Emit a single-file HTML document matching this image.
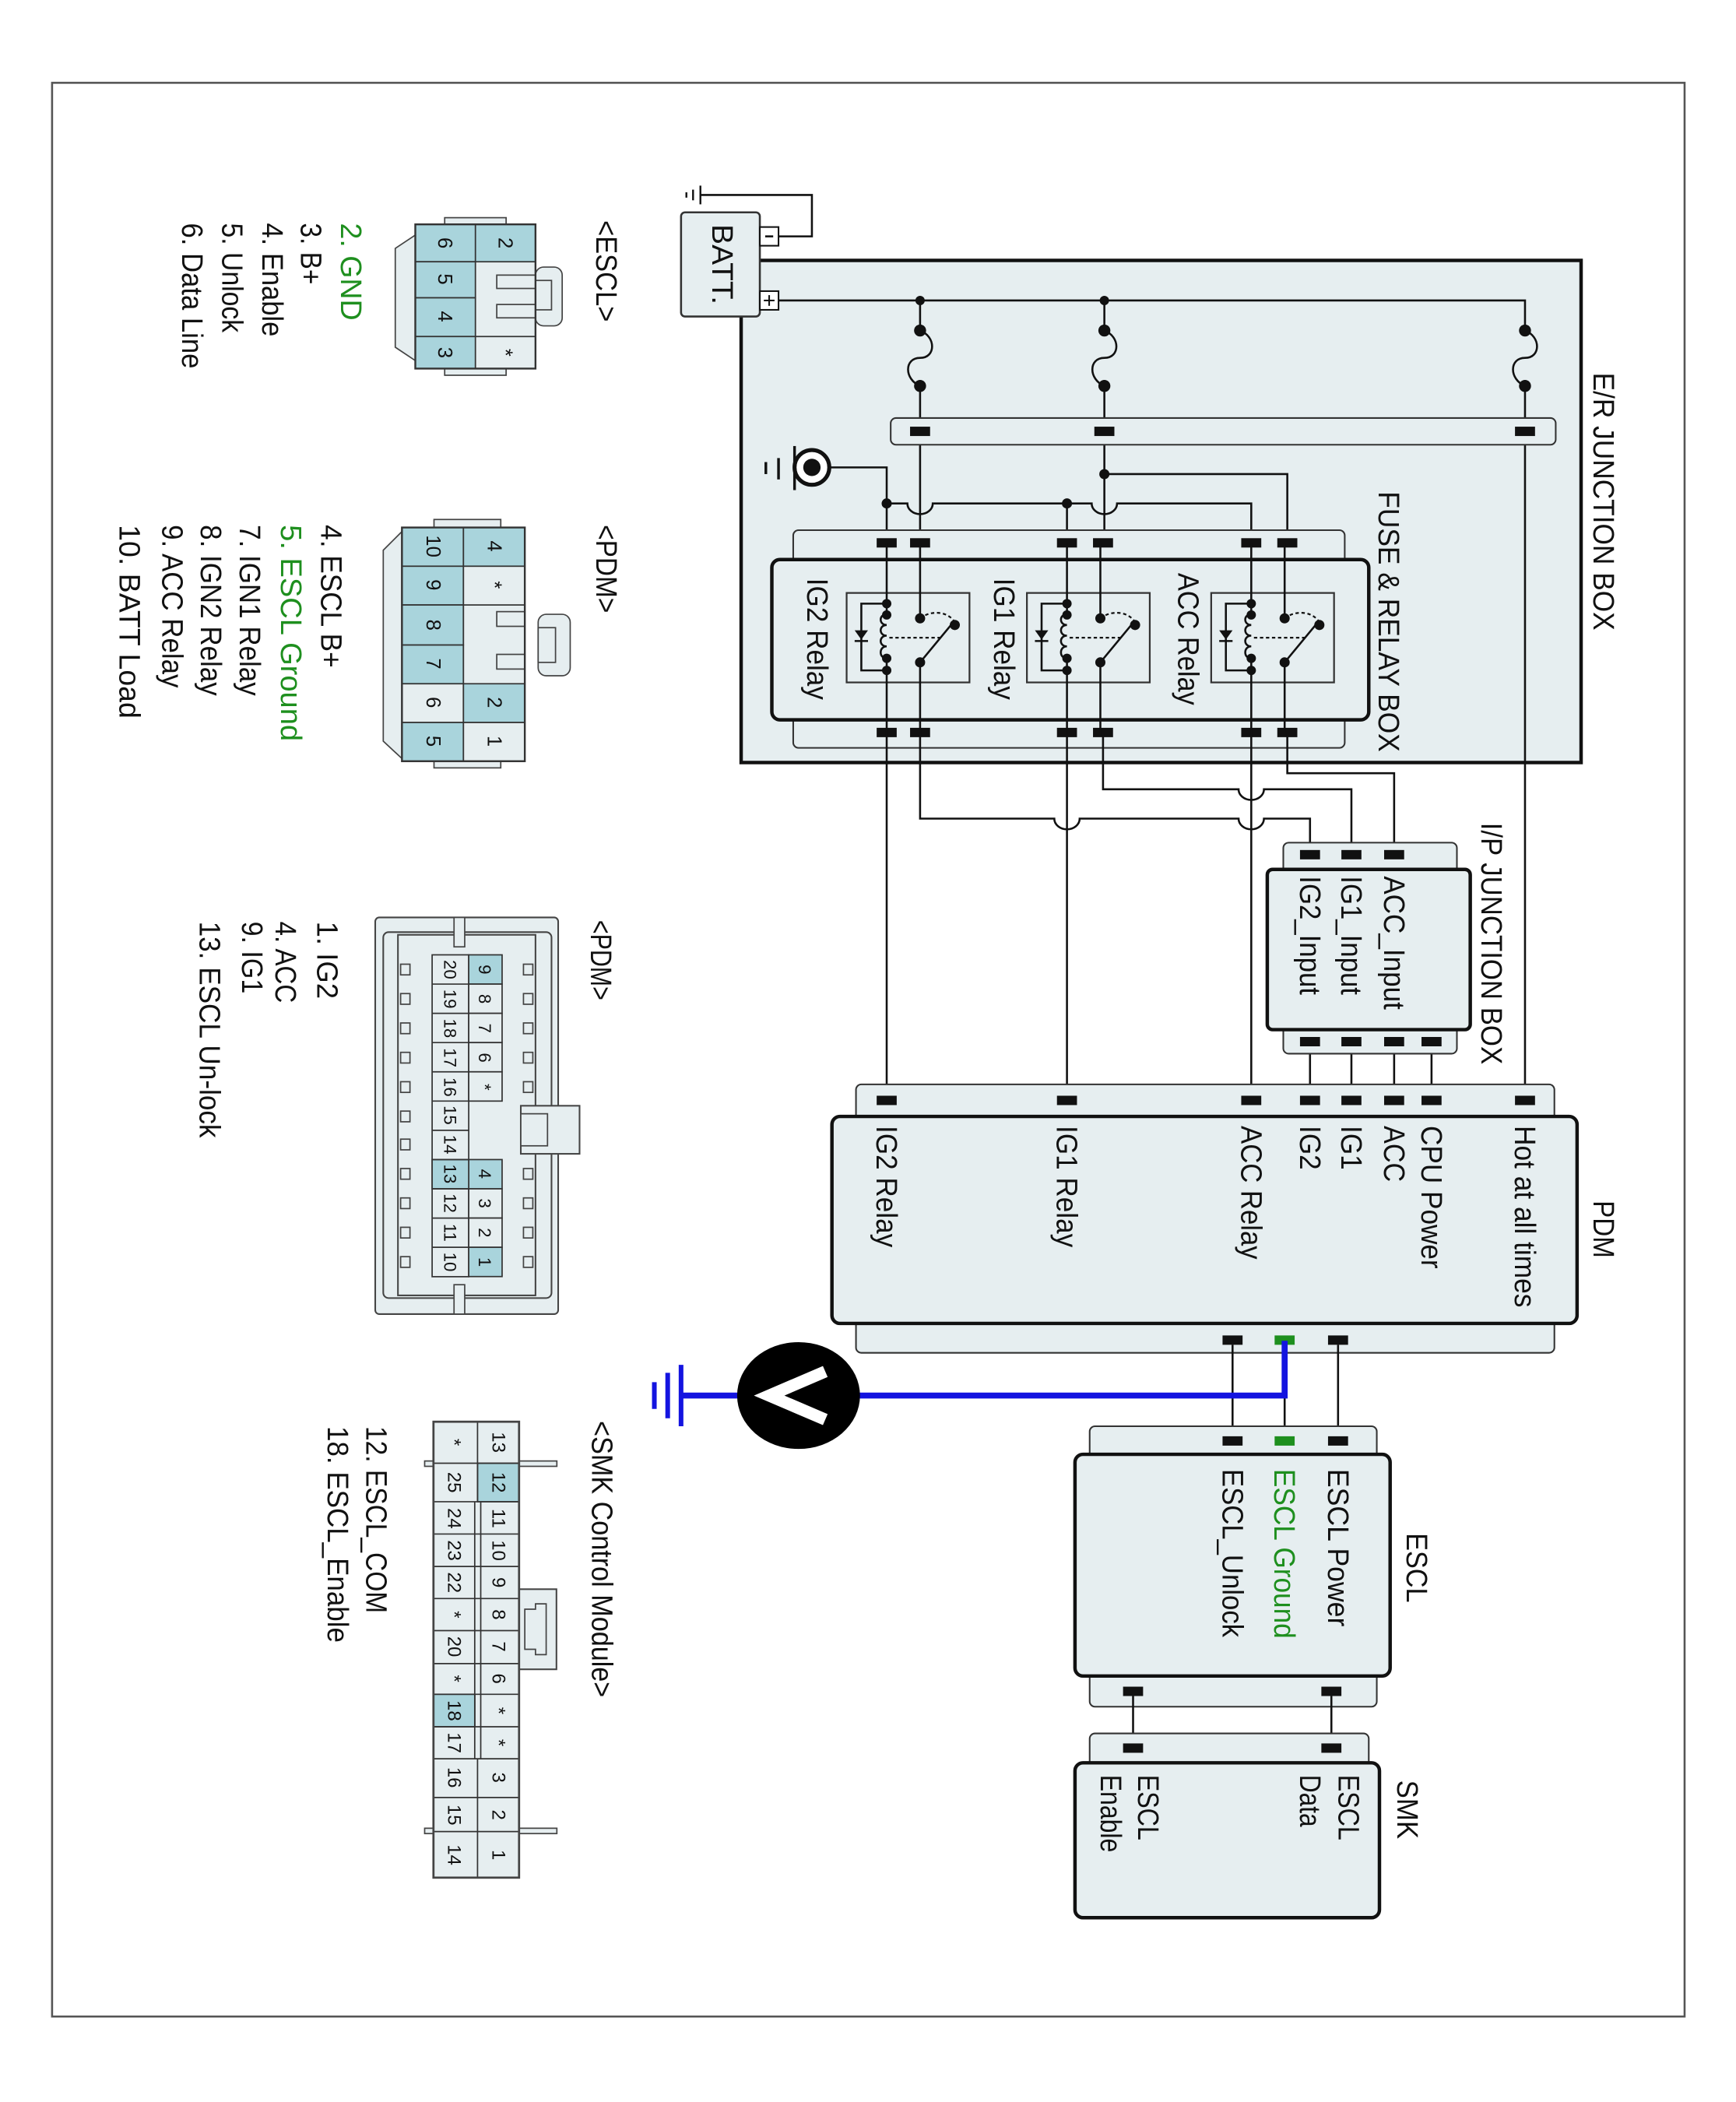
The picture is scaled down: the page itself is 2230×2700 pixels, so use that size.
<!DOCTYPE html>
<html><head><meta charset="utf-8"><style>
html,body{margin:0;padding:0;background:#fff;}
svg{display:block;}
text{font-family:"Liberation Sans",Arial,sans-serif;fill:#111;}
</style></head><body>
<svg xmlns="http://www.w3.org/2000/svg" width="2230" height="2700" viewBox="0 0 1300 1574" preserveAspectRatio="none">
<defs>
<style>
.w{stroke:#111;stroke-width:1.5;fill:none;}
.box{fill:#e6eef0;stroke:#111;stroke-width:2.6;}
.strip{fill:#e6eef0;stroke:#333;stroke-width:1.2;}
.c{fill:#111;}
.t{font-size:22px;dominant-baseline:central;}
.teal{fill:#a9d4dc;stroke:#333;stroke-width:1;}
.lt{fill:#e6eef0;stroke:#333;stroke-width:1;}
.n{font-size:15px;dominant-baseline:central;text-anchor:middle;}
</style>
</defs>
<rect x="0" y="0" width="1300" height="1574" fill="#fff"/>
<rect x="39" y="62" width="1222.5" height="1448" fill="none" stroke="#555" stroke-width="1.5"/>

<!-- E/R junction box -->
<rect x="555" y="195" width="629" height="376" fill="#e6eef0" stroke="#111" stroke-width="2.6"/>
<text class="t" transform="translate(1201,279) rotate(90)" textLength="193" lengthAdjust="spacingAndGlyphs">E/R JUNCTION BOX</text>
<text class="t" transform="translate(1040,368) rotate(90)" textLength="195" lengthAdjust="spacingAndGlyphs">FUSE &amp; RELAY BOX</text>

<!-- Battery -->
<rect x="510" y="159" width="59" height="78" rx="3" fill="#e6eef0" stroke="#333" stroke-width="1.5"/>
<text class="t" transform="translate(541,168) rotate(90)" textLength="60" lengthAdjust="spacingAndGlyphs">BATT.</text>
<rect x="569" y="170" width="14" height="14" fill="#fff" stroke="#111" stroke-width="1.2"/>
<line x1="573" y1="177" x2="579" y2="177" stroke="#111" stroke-width="1.5"/>
<rect x="569" y="218" width="14" height="14" fill="#fff" stroke="#111" stroke-width="1.2"/>
<line x1="572" y1="225" x2="580" y2="225" stroke="#111" stroke-width="1.2"/><line x1="576" y1="221" x2="576" y2="229" stroke="#111" stroke-width="1.2"/>
<polyline class="w" points="583,177 608,177 608,146 524,146"/>
<line x1="524.5" y1="139" x2="524.5" y2="153" stroke="#111" stroke-width="1.4"/>
<line x1="519" y1="142" x2="519" y2="150" stroke="#111" stroke-width="1.4"/>
<line x1="514" y1="144" x2="514" y2="148" stroke="#111" stroke-width="1.4"/>

<!-- + bus -->
<polyline class="w" points="583,225 1142,225 1142,247"/>
<circle class="c" cx="689" cy="225" r="3.5"/><circle class="c" cx="827" cy="225" r="3.5"/>
<g class="w">
<path d="M689,225 V247.5 C701,252 701,268 689,268 C677,268 677,284 689,289 V406"/>
<path d="M827,225 V247.5 C839,252 839,268 827,268 C815,268 815,284 827,289 V406"/>
<path d="M1142,247.5 C1154,252 1154,268 1142,268 C1130,268 1130,284 1142,289 V824"/>
</g>
<g class="c">
<circle cx="689" cy="247.5" r="4.5"/><circle cx="689" cy="289" r="4.5"/>
<circle cx="827" cy="247.5" r="4.5"/><circle cx="827" cy="289" r="4.5"/>
<circle cx="1142" cy="247.5" r="4.5"/><circle cx="1142" cy="289" r="4.5"/>
</g>
<rect class="strip" x="667" y="313" width="498" height="20" rx="4"/>
<rect class="c" x="681.5" y="319.5" width="15" height="7"/>
<rect class="c" x="819.5" y="319.5" width="15" height="7"/>
<rect class="c" x="1134.5" y="319.5" width="15" height="7"/>

<!-- ground circle -->
<circle cx="608" cy="350" r="13" fill="#fff" stroke="#111" stroke-width="3"/>
<circle cx="608" cy="350" r="6.5" fill="#111"/>
<line x1="595" y1="334" x2="595" y2="367" stroke="#111" stroke-width="2"/>
<line x1="583" y1="343" x2="583" y2="359" stroke="#111" stroke-width="2"/>
<line x1="573.5" y1="346" x2="573.5" y2="355" stroke="#111" stroke-width="2"/>
<path class="w" d="M621,350 H664 V406"/>
<path class="w" d="M664,377 H679.5 A9.5,8 0 0 0 698.5,377 H817.5 A9.5,8 0 0 0 836.5,377 H937 V406"/>
<line class="w" x1="799" y1="377" x2="799" y2="406"/>
<path class="w" d="M827,355 H964 V406"/>
<circle class="c" cx="664" cy="377" r="3.8"/><circle class="c" cx="799" cy="377" r="3.8"/><circle class="c" cx="827" cy="355" r="3.8"/>

<!-- Fuse & relay box -->
<rect class="strip" x="594" y="397" width="413" height="26" rx="4"/>
<rect class="strip" x="594" y="535" width="413" height="25" rx="4"/>
<rect class="box" x="578" y="419" width="447" height="120" rx="6"/>
<g class="c">
<rect x="656.5" y="403" width="15" height="7"/><rect x="681.5" y="403" width="15" height="7"/>
<rect x="791.5" y="403" width="15" height="7"/><rect x="818.5" y="403" width="15" height="7"/>
<rect x="929.5" y="403" width="15" height="7"/><rect x="956.5" y="403" width="15" height="7"/>
<rect x="656.5" y="545" width="15" height="7"/><rect x="681.5" y="545" width="15" height="7"/>
<rect x="791.5" y="545" width="15" height="7"/><rect x="818.5" y="545" width="15" height="7"/>
<rect x="929.5" y="545" width="15" height="7"/><rect x="956.5" y="545" width="15" height="7"/>
</g>
<g id="relay">
<rect x="634" y="444" width="92" height="67" fill="#e6eef0" stroke="#333" stroke-width="1.3"/>
<line class="w" x1="664" y1="406" x2="664" y2="460"/>
<line class="w" x1="664" y1="493" x2="664" y2="549"/>
<path class="w" d="M664,460 c-6,0 -6,8 0,8 c-6,0 -6,8 0,8 c-6,0 -6,8 0,8 c-6,0 -6,9 0,9"/>
<polyline class="w" points="664,452 645,452 645,502 664,502"/>
<polygon points="640,472 650,472 645,479" fill="#111"/>
<line x1="640" y1="480" x2="650" y2="480" stroke="#111" stroke-width="1.5"/>
<line class="w" x1="689" y1="406" x2="689" y2="463"/>
<line class="w" x1="689" y1="496" x2="689" y2="549"/>
<line class="w" x1="689" y1="496" x2="713" y2="467"/>
<path d="M689,463 C698,456 712,458 716,468" fill="none" stroke="#111" stroke-width="1.3" stroke-dasharray="2.5,2"/>
<line x1="666" y1="477.5" x2="706" y2="477.5" stroke="#111" stroke-width="1.3" stroke-dasharray="2.5,2"/>
<g class="c">
<circle cx="664" cy="452" r="3.5"/><circle cx="664" cy="460.5" r="3.5"/><circle cx="664" cy="493" r="3.5"/><circle cx="664" cy="502" r="3.5"/>
<circle cx="689" cy="463" r="3.8"/><circle cx="689" cy="496" r="3.8"/><circle cx="715" cy="468" r="3.8"/>
</g>
</g>
<use href="#relay" transform="translate(135,0)"/>
<use href="#relay" transform="translate(273,0)"/>
<text class="t" transform="translate(612,433) rotate(90)" textLength="91" lengthAdjust="spacingAndGlyphs">IG2 Relay</text>
<text class="t" transform="translate(752,433) rotate(90)" textLength="91" lengthAdjust="spacingAndGlyphs">IG1 Relay</text>
<text class="t" transform="translate(890,429) rotate(90)" textLength="99" lengthAdjust="spacingAndGlyphs">ACC Relay</text>

<g class="w">
<line x1="664" y1="549" x2="664" y2="824"/>
<line x1="799" y1="549" x2="799" y2="824"/>
<line x1="937" y1="549" x2="937" y2="824"/>
<path d="M689,549 V613 H789.5 A9.5,8 0 0 0 808.5,613 H927.5 A9.5,8 0 0 0 946.5,613 H981 V640"/>
<path d="M826,549 V591 H927.5 A9.5,8 0 0 0 946.5,591 H1012 V640"/>
<path d="M964,549 V579 H1044 V640"/>
<line x1="981" y1="780" x2="981" y2="824"/>
<line x1="1012" y1="780" x2="1012" y2="824"/>
<line x1="1044" y1="780" x2="1044" y2="824"/>
<line x1="1072" y1="780" x2="1072" y2="824"/>
</g>

<!-- I/P junction box -->
<rect class="strip" x="961" y="631" width="130" height="24" rx="4"/>
<rect class="strip" x="961" y="766" width="130" height="23" rx="4"/>
<rect class="box" x="949" y="651" width="152" height="120" rx="4"/>
<g class="c">
<rect x="973.5" y="636.5" width="15" height="7"/><rect x="1004.5" y="636.5" width="15" height="7"/><rect x="1036.5" y="636.5" width="15" height="7"/>
<rect x="973.5" y="776.5" width="15" height="7"/><rect x="1004.5" y="776.5" width="15" height="7"/><rect x="1036.5" y="776.5" width="15" height="7"/><rect x="1064.5" y="776.5" width="15" height="7"/>
</g>
<text class="t" transform="translate(1044,656) rotate(90)" textLength="100" lengthAdjust="spacingAndGlyphs">ACC_Input</text>
<text class="t" transform="translate(1012,656) rotate(90)" textLength="89" lengthAdjust="spacingAndGlyphs">IG1_Input</text>
<text class="t" transform="translate(981,656) rotate(90)" textLength="89" lengthAdjust="spacingAndGlyphs">IG2_Input</text>
<text class="t" transform="translate(1117,616) rotate(90)" textLength="181" lengthAdjust="spacingAndGlyphs">I/P JUNCTION BOX</text>

<!-- PDM -->
<rect class="strip" x="641" y="812" width="523" height="30" rx="4"/>
<rect class="strip" x="641" y="985" width="523" height="28" rx="4"/>
<rect class="box" x="623" y="836" width="558" height="155" rx="6"/>
<g class="c">
<rect x="656.5" y="820.5" width="15" height="7"/><rect x="791.5" y="820.5" width="15" height="7"/><rect x="929.5" y="820.5" width="15" height="7"/>
<rect x="973.5" y="820.5" width="15" height="7"/><rect x="1004.5" y="820.5" width="15" height="7"/><rect x="1036.5" y="820.5" width="15" height="7"/><rect x="1064.5" y="820.5" width="15" height="7"/><rect x="1134.5" y="820.5" width="15" height="7"/>
<rect x="915.5" y="1000" width="15" height="7"/><rect x="994.5" y="1000" width="15" height="7"/>
</g>
<rect x="954.5" y="1000" width="15" height="7" fill="#1e8f1e"/>
<text class="t" transform="translate(664,843) rotate(90)" textLength="91" lengthAdjust="spacingAndGlyphs">IG2 Relay</text>
<text class="t" transform="translate(799,843) rotate(90)" textLength="91" lengthAdjust="spacingAndGlyphs">IG1 Relay</text>
<text class="t" transform="translate(937,843) rotate(90)" textLength="100" lengthAdjust="spacingAndGlyphs">ACC Relay</text>
<text class="t" transform="translate(981,843) rotate(90)" textLength="33" lengthAdjust="spacingAndGlyphs">IG2</text>
<text class="t" transform="translate(1012,843) rotate(90)" textLength="33" lengthAdjust="spacingAndGlyphs">IG1</text>
<text class="t" transform="translate(1044,843) rotate(90)" textLength="42" lengthAdjust="spacingAndGlyphs">ACC</text>
<text class="t" transform="translate(1072,843) rotate(90)" textLength="107" lengthAdjust="spacingAndGlyphs">CPU Power</text>
<text class="t" transform="translate(1142,843) rotate(90)" textLength="136" lengthAdjust="spacingAndGlyphs">Hot at all times</text>
<text class="t" transform="translate(1201,899) rotate(90)" textLength="43" lengthAdjust="spacingAndGlyphs">PDM</text>

<line class="w" x1="923" y1="1007" x2="923" y2="1079"/>
<line class="w" x1="1002" y1="1007" x2="1002" y2="1079"/>
<line class="w" x1="962" y1="1045" x2="962" y2="1079"/>
<polyline points="962,1004 962,1045 510,1045" fill="none" stroke="#1414e0" stroke-width="4.5"/>
<line x1="510" y1="1022" x2="510" y2="1068" stroke="#1414e0" stroke-width="3.5"/>
<line x1="500" y1="1028" x2="500" y2="1062" stroke="#1414e0" stroke-width="3.5"/>
<line x1="490" y1="1035" x2="490" y2="1055" stroke="#1414e0" stroke-width="3.5"/>
<ellipse cx="598" cy="1045" rx="46" ry="40" fill="#000"/>
<polyline points="618,1027 576,1045 618,1063" fill="none" stroke="#fff" stroke-width="9" stroke-linejoin="miter"/>

<!-- ESCL -->
<rect class="strip" x="816" y="1068" width="215" height="26" rx="4"/>
<rect class="strip" x="816" y="1250" width="215" height="28" rx="4"/>
<rect class="box" x="805" y="1089" width="236" height="166" rx="6"/>
<g class="c">
<rect x="915.5" y="1075.5" width="15" height="7"/><rect x="994.5" y="1075.5" width="15" height="7"/>
<rect x="841" y="1263" width="15" height="7"/><rect x="989.5" y="1263" width="15" height="7"/>
<rect x="841" y="1305.5" width="15" height="7"/><rect x="989.5" y="1305.5" width="15" height="7"/>
</g>
<rect x="954.5" y="1075.5" width="15" height="7" fill="#1e8f1e"/>
<text class="t" transform="translate(1002,1100) rotate(90)" textLength="118" lengthAdjust="spacingAndGlyphs">ESCL Power</text>
<text class="t" transform="translate(962,1100) rotate(90)" textLength="127" lengthAdjust="spacingAndGlyphs" style="fill:#1e8f1e">ESCL Ground</text>
<text class="t" transform="translate(923,1100) rotate(90)" textLength="126" lengthAdjust="spacingAndGlyphs">ESCL_Unlock</text>
<text class="t" transform="translate(1061,1148) rotate(90)" textLength="52" lengthAdjust="spacingAndGlyphs">ESCL</text>
<line class="w" x1="848.5" y1="1270" x2="848.5" y2="1306"/>
<line class="w" x1="997" y1="1270" x2="997" y2="1306"/>

<!-- SMK -->
<rect class="strip" x="816" y="1298" width="209" height="26" rx="4"/>
<rect class="box" x="805" y="1320" width="228" height="116" rx="6"/>
<rect class="c" x="841" y="1305.5" width="15" height="7"/><rect class="c" x="989.5" y="1305.5" width="15" height="7"/>
<text class="t" transform="translate(1010,1329) rotate(90)" textLength="49" lengthAdjust="spacingAndGlyphs">ESCL</text>
<text class="t" transform="translate(981,1329) rotate(90)" textLength="39" lengthAdjust="spacingAndGlyphs">Data</text>
<text class="t" transform="translate(860,1329) rotate(90)" textLength="49" lengthAdjust="spacingAndGlyphs">ESCL</text>
<text class="t" transform="translate(832,1329) rotate(90)" textLength="58" lengthAdjust="spacingAndGlyphs">Enable</text>
<text class="t" transform="translate(1054,1333) rotate(90)" textLength="44" lengthAdjust="spacingAndGlyphs">SMK</text>

<!-- ESCL connector -->
<text class="t" transform="translate(454,165) rotate(90)" textLength="76" lengthAdjust="spacingAndGlyphs">&lt;ESCL&gt;</text>
<rect x="333" y="163" width="46" height="118" fill="#e6eef0" stroke="#444" stroke-width="1"/>
<path d="M311,176 L296,186 L296,260 L311,270 Z" fill="#e6eef0" stroke="#444" stroke-width="1"/>
<rect x="401" y="200" width="20" height="44" rx="6" fill="#e6eef0" stroke="#444" stroke-width="1"/>
<rect x="401" y="210" width="12" height="22" fill="#e6eef0" stroke="#444" stroke-width="1"/>
<rect class="lt" x="356" y="168" width="45" height="108"/>
<rect class="teal" x="356" y="168" width="45" height="28"/>
<rect class="lt" x="356" y="252" width="45" height="24"/>
<rect x="372" y="206" width="29" height="10" fill="#e6eef0" stroke="#444" stroke-width="1"/>
<rect x="372" y="228" width="29" height="10" fill="#e6eef0" stroke="#444" stroke-width="1"/>
<rect class="teal" x="311" y="168" width="45" height="28"/>
<rect class="teal" x="311" y="196" width="45" height="27"/>
<rect class="teal" x="311" y="223" width="45" height="29"/>
<rect class="teal" x="311" y="252" width="45" height="24"/>
<rect x="311" y="168" width="90" height="108" fill="none" stroke="#333" stroke-width="1.4"/>
<text class="n" transform="translate(378,182) rotate(90)">2</text>
<text class="n" transform="translate(378,264) rotate(90)">*</text>
<text class="n" transform="translate(333,182) rotate(90)">6</text>
<text class="n" transform="translate(333,209) rotate(90)">5</text>
<text class="n" transform="translate(333,237) rotate(90)">4</text>
<text class="n" transform="translate(333,264) rotate(90)">3</text>
<text class="t" transform="translate(263,167) rotate(90)" textLength="73" lengthAdjust="spacingAndGlyphs" style="fill:#1e8f1e">2. GND</text>
<text class="t" transform="translate(233,167) rotate(90)" textLength="46" lengthAdjust="spacingAndGlyphs">3. B+</text>
<text class="t" transform="translate(204,167) rotate(90)" textLength="85" lengthAdjust="spacingAndGlyphs">4. Enable</text>
<text class="t" transform="translate(174,167) rotate(90)" textLength="82" lengthAdjust="spacingAndGlyphs">5. Unlock</text>
<text class="t" transform="translate(144,167) rotate(90)" textLength="109" lengthAdjust="spacingAndGlyphs">6. Data Line</text>

<!-- PDM small connector -->
<text class="t" transform="translate(454,393) rotate(90)" textLength="66" lengthAdjust="spacingAndGlyphs">&lt;PDM&gt;</text>
<rect x="325" y="389" width="50" height="186" fill="#e6eef0" stroke="#444" stroke-width="1"/>
<path d="M301,398 L287,412 L287,555 L301,568 Z" fill="#e6eef0" stroke="#444" stroke-width="1"/>
<rect x="403" y="460" width="24" height="46" rx="6" fill="#e6eef0" stroke="#444" stroke-width="1"/>
<rect x="403" y="470" width="13" height="26" fill="#e6eef0" stroke="#444" stroke-width="1"/>
<rect class="lt" x="347" y="395" width="46" height="175"/>
<rect class="teal" x="347" y="395" width="46" height="29"/>
<rect class="lt" x="347" y="424" width="46" height="29"/>
<rect x="372" y="458" width="21" height="11" fill="#e6eef0" stroke="#444" stroke-width="1"/>
<rect x="372" y="490" width="21" height="11" fill="#e6eef0" stroke="#444" stroke-width="1"/>
<rect class="teal" x="347" y="512" width="46" height="29"/>
<rect class="lt" x="347" y="541" width="46" height="29"/>
<rect class="teal" x="301" y="395" width="46" height="29"/>
<rect class="teal" x="301" y="424" width="46" height="29"/>
<rect class="teal" x="301" y="453" width="46" height="30"/>
<rect class="teal" x="301" y="483" width="46" height="29"/>
<rect class="lt" x="301" y="512" width="46" height="29"/>
<rect class="teal" x="301" y="541" width="46" height="29"/>
<rect x="301" y="395" width="92" height="175" fill="none" stroke="#333" stroke-width="1.4"/>
<text class="n" transform="translate(370,409) rotate(90)">4</text>
<text class="n" transform="translate(370,438) rotate(90)">*</text>
<text class="n" transform="translate(370,526) rotate(90)">2</text>
<text class="n" transform="translate(370,555) rotate(90)">1</text>
<text class="n" transform="translate(324,409) rotate(90)">10</text>
<text class="n" transform="translate(324,438) rotate(90)">9</text>
<text class="n" transform="translate(324,468) rotate(90)">8</text>
<text class="n" transform="translate(324,497) rotate(90)">7</text>
<text class="n" transform="translate(324,526) rotate(90)">6</text>
<text class="n" transform="translate(324,555) rotate(90)">5</text>
<text class="t" transform="translate(248,393) rotate(90)" textLength="107" lengthAdjust="spacingAndGlyphs">4. ESCL B+</text>
<text class="t" transform="translate(218,393) rotate(90)" textLength="162" lengthAdjust="spacingAndGlyphs" style="fill:#1e8f1e">5. ESCL Ground</text>
<text class="t" transform="translate(187,393) rotate(90)" textLength="128" lengthAdjust="spacingAndGlyphs">7. IGN1 Relay</text>
<text class="t" transform="translate(158,393) rotate(90)" textLength="128" lengthAdjust="spacingAndGlyphs">8. IGN2 Relay</text>
<text class="t" transform="translate(129,393) rotate(90)" textLength="122" lengthAdjust="spacingAndGlyphs">9. ACC Relay</text>
<text class="t" transform="translate(97,393) rotate(90)" textLength="145" lengthAdjust="spacingAndGlyphs">10. BATT Load</text>

<!-- PDM big connector -->
<text class="t" transform="translate(450,689) rotate(90)" textLength="60" lengthAdjust="spacingAndGlyphs">&lt;PDM&gt;</text>
<rect x="281" y="687" width="137" height="297" rx="3" fill="#e6eef0" stroke="#444" stroke-width="1.2"/>
<rect x="287" y="698" width="126" height="274" rx="4" fill="#e6eef0" stroke="#444" stroke-width="1.2"/>
<rect x="298" y="700" width="103" height="270" fill="#e6eef0" stroke="#444" stroke-width="1.2"/>
<rect x="340" y="687" width="8" height="22" fill="#e6eef0" stroke="#444" stroke-width="1"/>
<rect x="340" y="962" width="8" height="22" fill="#e6eef0" stroke="#444" stroke-width="1"/>
<rect x="390" y="828" width="44" height="36" fill="#e6eef0" stroke="#444" stroke-width="1.2"/>
<rect x="390" y="834" width="20" height="24" fill="#e6eef0" stroke="#444" stroke-width="1"/>
<g fill="#e6eef0" stroke="#444" stroke-width="1">
<rect x="300" y="722" width="7" height="8"/><rect x="300" y="744" width="7" height="8"/><rect x="300" y="766" width="7" height="8"/><rect x="300" y="788" width="7" height="8"/><rect x="300" y="810" width="7" height="8"/><rect x="300" y="832" width="7" height="8"/><rect x="300" y="853" width="7" height="8"/><rect x="300" y="875" width="7" height="8"/><rect x="300" y="897" width="7" height="8"/><rect x="300" y="919" width="7" height="8"/><rect x="300" y="941" width="7" height="8"/>
<rect x="392" y="722" width="7" height="8"/><rect x="392" y="744" width="7" height="8"/><rect x="392" y="766" width="7" height="8"/><rect x="392" y="788" width="7" height="8"/><rect x="392" y="810" width="7" height="8"/><rect x="392" y="875" width="7" height="8"/><rect x="392" y="897" width="7" height="8"/><rect x="392" y="919" width="7" height="8"/><rect x="392" y="941" width="7" height="8"/>
</g>
<rect class="lt" x="323.6" y="715" width="27.4" height="241"/>
<rect class="teal" x="351" y="715" width="25" height="21.9"/>
<rect class="lt" x="351" y="736.9" width="25" height="21.9"/>
<rect class="lt" x="351" y="758.8" width="25" height="21.9"/>
<rect class="lt" x="351" y="780.7" width="25" height="21.9"/>
<rect class="lt" x="351" y="802.6" width="25" height="21.9"/>
<rect class="teal" x="351" y="868.3" width="25" height="21.9"/>
<rect class="lt" x="351" y="890.2" width="25" height="21.9"/>
<rect class="lt" x="351" y="912.1" width="25" height="21.9"/>
<rect class="teal" x="351" y="934" width="25" height="21.9"/>
<rect class="teal" x="323.6" y="868.3" width="27.4" height="21.9"/>
<g stroke="#333" stroke-width="1">
<line x1="323.6" y1="736.9" x2="351" y2="736.9"/><line x1="323.6" y1="758.8" x2="351" y2="758.8"/><line x1="323.6" y1="780.7" x2="351" y2="780.7"/><line x1="323.6" y1="802.6" x2="351" y2="802.6"/><line x1="323.6" y1="824.5" x2="351" y2="824.5"/><line x1="323.6" y1="846.4" x2="351" y2="846.4"/><line x1="323.6" y1="868.3" x2="351" y2="868.3"/><line x1="323.6" y1="890.2" x2="351" y2="890.2"/><line x1="323.6" y1="912.1" x2="351" y2="912.1"/><line x1="323.6" y1="934" x2="351" y2="934"/>
</g>
<text class="n" style="font-size:13px" transform="translate(363,726) rotate(90)">9</text>
<text class="n" style="font-size:13px" transform="translate(363,748) rotate(90)">8</text>
<text class="n" style="font-size:13px" transform="translate(363,770) rotate(90)">7</text>
<text class="n" style="font-size:13px" transform="translate(363,792) rotate(90)">6</text>
<text class="n" style="font-size:13px" transform="translate(363,814) rotate(90)">*</text>
<text class="n" style="font-size:13px" transform="translate(363,879) rotate(90)">4</text>
<text class="n" style="font-size:13px" transform="translate(363,901) rotate(90)">3</text>
<text class="n" style="font-size:13px" transform="translate(363,923) rotate(90)">2</text>
<text class="n" style="font-size:13px" transform="translate(363,945) rotate(90)">1</text>
<text class="n" style="font-size:13px" transform="translate(337,726) rotate(90)">20</text>
<text class="n" style="font-size:13px" transform="translate(337,748) rotate(90)">19</text>
<text class="n" style="font-size:13px" transform="translate(337,770) rotate(90)">18</text>
<text class="n" style="font-size:13px" transform="translate(337,792) rotate(90)">17</text>
<text class="n" style="font-size:13px" transform="translate(337,814) rotate(90)">16</text>
<text class="n" style="font-size:13px" transform="translate(337,835) rotate(90)">15</text>
<text class="n" style="font-size:13px" transform="translate(337,857) rotate(90)">14</text>
<text class="n" style="font-size:13px" transform="translate(337,879) rotate(90)">13</text>
<text class="n" style="font-size:13px" transform="translate(337,901) rotate(90)">12</text>
<text class="n" style="font-size:13px" transform="translate(337,923) rotate(90)">11</text>
<text class="n" style="font-size:13px" transform="translate(337,945) rotate(90)">10</text>
<text class="t" transform="translate(245,690) rotate(90)" textLength="58" lengthAdjust="spacingAndGlyphs">1. IG2</text>
<text class="t" transform="translate(214,690) rotate(90)" textLength="61" lengthAdjust="spacingAndGlyphs">4. ACC</text>
<text class="t" transform="translate(189,690) rotate(90)" textLength="54" lengthAdjust="spacingAndGlyphs">9. IG1</text>
<text class="t" transform="translate(157,690) rotate(90)" textLength="162" lengthAdjust="spacingAndGlyphs">13. ESCL Un-lock</text>

<!-- SMK connector -->
<text class="t" transform="translate(451,1064) rotate(90)" textLength="207" lengthAdjust="spacingAndGlyphs">&lt;SMK Control Module&gt;</text>
<rect x="318" y="1094" width="99" height="4" fill="#e6eef0" stroke="#444" stroke-width="1"/>
<rect x="318" y="1369" width="99" height="4" fill="#e6eef0" stroke="#444" stroke-width="1"/>
<rect x="388.7" y="1190" width="28" height="60" fill="#e6eef0" stroke="#444" stroke-width="1.2"/>
<path d="M393,1205 h8 v-4 h8 v38 h-8 v-4 h-8 Z" fill="none" stroke="#444" stroke-width="1"/>
<rect class="lt" x="324.6" y="1064.6" width="64.1" height="341.4"/>
<rect class="teal" x="357.6" y="1095.7" width="31.1" height="28.8"/>
<rect class="teal" x="324.6" y="1268.7" width="31" height="24.3"/>
<g stroke="#333" stroke-width="1">
<line x1="357.6" y1="1064.6" x2="357.6" y2="1124.5"/>
<line x1="357.6" y1="1317" x2="357.6" y2="1406"/>
<line x1="355.5" y1="1124.5" x2="355.5" y2="1317"/>
<line x1="360" y1="1124.5" x2="360" y2="1317"/>
<line x1="324.6" y1="1095.7" x2="388.7" y2="1095.7"/>
<line x1="324.6" y1="1124.5" x2="388.7" y2="1124.5"/>
<line x1="324.6" y1="1148.7" x2="388.7" y2="1148.7"/>
<line x1="324.6" y1="1173" x2="388.7" y2="1173"/>
<line x1="324.6" y1="1197" x2="388.7" y2="1197"/>
<line x1="324.6" y1="1221" x2="388.7" y2="1221"/>
<line x1="324.6" y1="1245.7" x2="388.7" y2="1245.7"/>
<line x1="324.6" y1="1268.7" x2="388.7" y2="1268.7"/>
<line x1="324.6" y1="1293" x2="388.7" y2="1293"/>
<line x1="324.6" y1="1317" x2="388.7" y2="1317"/>
<line x1="324.6" y1="1346" x2="388.7" y2="1346"/>
<line x1="324.6" y1="1371.5" x2="388.7" y2="1371.5"/>
</g>
<rect x="324.6" y="1064.6" width="64.1" height="341.4" fill="none" stroke="#444" stroke-width="1.6"/>
<text class="n" style="font-size:14px" transform="translate(373,1080) rotate(90)">13</text>
<text class="n" style="font-size:14px" transform="translate(373,1110) rotate(90)">12</text>
<text class="n" style="font-size:14px" transform="translate(373,1137) rotate(90)">11</text>
<text class="n" style="font-size:14px" transform="translate(373,1161) rotate(90)">10</text>
<text class="n" style="font-size:14px" transform="translate(373,1185) rotate(90)">9</text>
<text class="n" style="font-size:14px" transform="translate(373,1209) rotate(90)">8</text>
<text class="n" style="font-size:14px" transform="translate(373,1233) rotate(90)">7</text>
<text class="n" style="font-size:14px" transform="translate(373,1257) rotate(90)">6</text>
<text class="n" style="font-size:14px" transform="translate(373,1281) rotate(90)">*</text>
<text class="n" style="font-size:14px" transform="translate(373,1305) rotate(90)">*</text>
<text class="n" style="font-size:14px" transform="translate(373,1331) rotate(90)">3</text>
<text class="n" style="font-size:14px" transform="translate(373,1359) rotate(90)">2</text>
<text class="n" style="font-size:14px" transform="translate(373,1389) rotate(90)">1</text>
<text class="n" style="font-size:14px" transform="translate(340,1080) rotate(90)">*</text>
<text class="n" style="font-size:14px" transform="translate(340,1110) rotate(90)">25</text>
<text class="n" style="font-size:14px" transform="translate(340,1137) rotate(90)">24</text>
<text class="n" style="font-size:14px" transform="translate(340,1161) rotate(90)">23</text>
<text class="n" style="font-size:14px" transform="translate(340,1185) rotate(90)">22</text>
<text class="n" style="font-size:14px" transform="translate(340,1209) rotate(90)">*</text>
<text class="n" style="font-size:14px" transform="translate(340,1233) rotate(90)">20</text>
<text class="n" style="font-size:14px" transform="translate(340,1257) rotate(90)">*</text>
<text class="n" style="font-size:14px" transform="translate(340,1281) rotate(90)">18</text>
<text class="n" style="font-size:14px" transform="translate(340,1305) rotate(90)">17</text>
<text class="n" style="font-size:14px" transform="translate(340,1331) rotate(90)">16</text>
<text class="n" style="font-size:14px" transform="translate(340,1359) rotate(90)">15</text>
<text class="n" style="font-size:14px" transform="translate(340,1389) rotate(90)">14</text>
<text class="t" transform="translate(282,1068) rotate(90)" textLength="140" lengthAdjust="spacingAndGlyphs">12. ESCL_COM</text>
<text class="t" transform="translate(253,1068) rotate(90)" textLength="162" lengthAdjust="spacingAndGlyphs">18. ESCL_Enable</text>
</svg>
</body></html>
